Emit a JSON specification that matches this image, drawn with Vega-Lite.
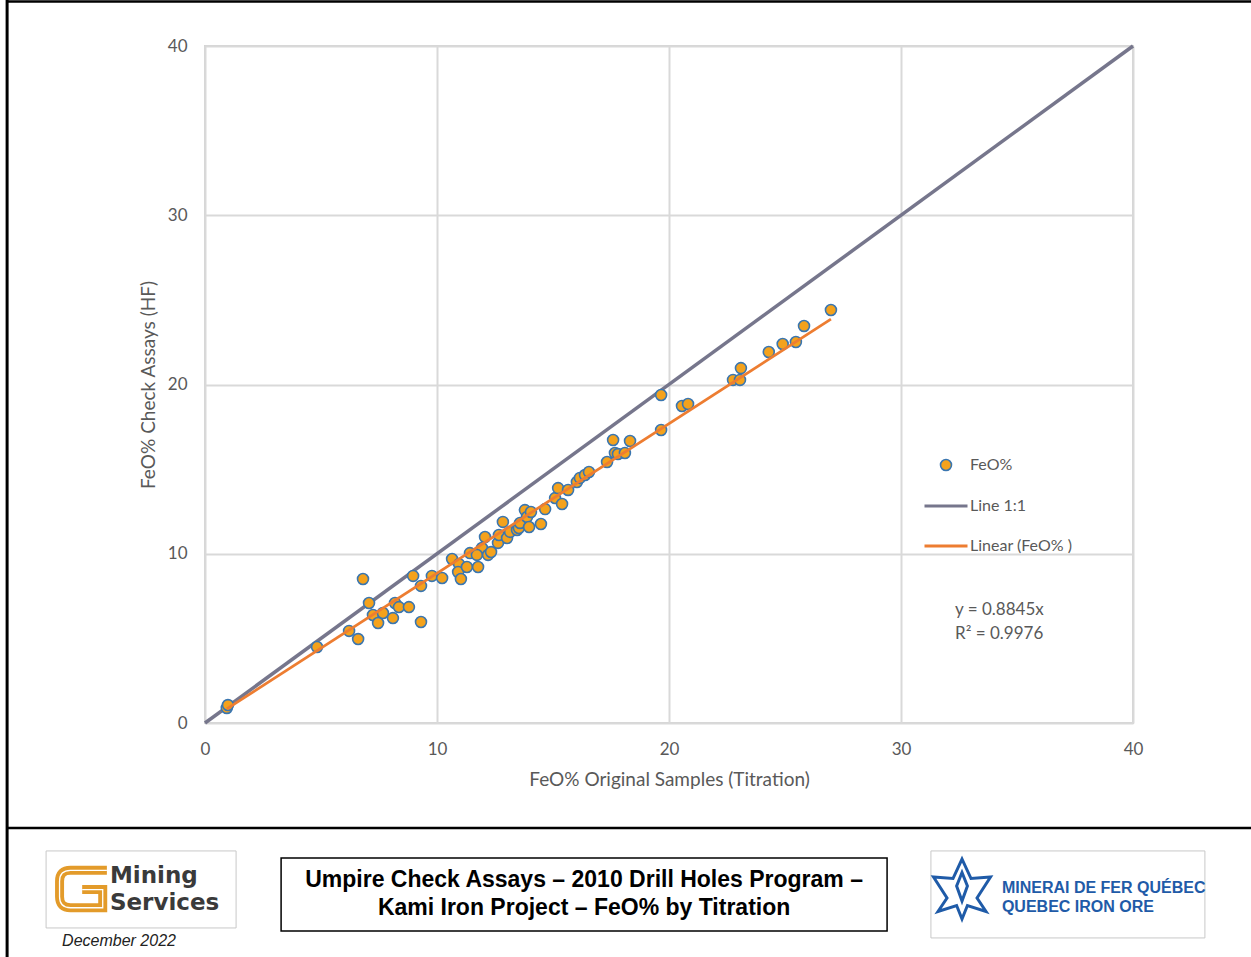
{
  "$schema": "https://vega.github.io/schema/vega-lite/v6.json",
  "width": 928,
  "height": 677,
  "autosize": {"type": "none"},
  "padding": {"left": 205, "top": 46, "right": 118, "bottom": 234},
  "background": "white",
  "config": {
    "view": {"stroke": "#D4D4D4", "strokeWidth": 2},
    "font": "Lato"
  },
  "layer": [
    {
      "data": {"values": [
        {"x": 0, "y": 0, "series": "Line 1:1"},
        {"x": 40, "y": 40, "series": "Line 1:1"}
      ]},
      "mark": {"type": "line", "strokeWidth": 3.5},
      "encoding": {
        "x": {"field": "x", "type": "quantitative", "scale": {"domain": [0, 40], "nice": false},
          "axis": {"values": [0, 10, 20, 30, 40], "grid": true, "gridColor": "#D9D9D9", "gridWidth": 2, "domain": false, "ticks": false, "labelFlush": false,
            "labelFontSize": 17, "labelColor": "#595959", "labelPadding": 18,
            "title": "FeO% Original Samples (Titration)", "titleFontSize": 19, "titleFontWeight": "normal", "titleColor": "#595959", "titlePadding": 13}},
        "y": {"field": "y", "type": "quantitative", "scale": {"domain": [0, 40], "nice": false},
          "axis": {"values": [0, 10, 20, 30, 40], "grid": true, "gridColor": "#D9D9D9", "gridWidth": 2, "domain": false, "ticks": false, "labelFlush": false,
            "labelFontSize": 17, "labelColor": "#595959", "labelPadding": 18,
            "title": "FeO% Check Assays (HF)", "titleFontSize": 19, "titleFontWeight": "normal", "titleColor": "#595959", "titlePadding": 9}},
        "color": {"field": "series", "type": "nominal",
          "scale": {"domain": ["FeO%", "Line 1:1", "Linear (FeO% )"], "range": ["#3A76B0", "#76768C", "#ED7D31"]},
          "legend": {"orient": "none", "legendX": 733, "legendY": 411, "title": null,
            "labelFontSize": 16, "labelColor": "#595959", "labelOffset": 16, "rowPadding": 24,
            "symbolSize": 1849, "symbolType": "stroke", "symbolStrokeWidth": 3,
            "encode": {"symbols": {"update": {
              "shape": {"signal": "datum.value === 'FeO%' ? 'circle' : 'stroke'"},
              "size": {"signal": "datum.value === 'FeO%' ? 120 : 1849"},
              "fill": {"signal": "datum.value === 'FeO%' ? '#F4A21C' : 'transparent'"},
              "stroke": {"signal": "datum.value === 'FeO%' ? '#3A76B0' : (datum.value === 'Line 1:1' ? '#76768C' : '#ED7D31')"},
              "strokeWidth": {"signal": "datum.value === 'FeO%' ? 1.6 : 3"},
              "opacity": {"value": 1}
            }}}}}
      }
    },
    {
      "data": {"values": [
        {"x": 0.94, "y": 0.89}, {"x": 0.99, "y": 1.06}, {"x": 4.83, "y": 4.49}, {"x": 6.21, "y": 5.44}, {"x": 6.6, "y": 4.96},
        {"x": 6.81, "y": 8.51}, {"x": 7.07, "y": 7.09}, {"x": 7.24, "y": 6.38}, {"x": 7.46, "y": 5.91}, {"x": 7.67, "y": 6.5},
        {"x": 8.1, "y": 6.2}, {"x": 8.19, "y": 7.09}, {"x": 8.36, "y": 6.85}, {"x": 8.79, "y": 6.85}, {"x": 8.97, "y": 8.69},
        {"x": 9.31, "y": 5.97}, {"x": 9.31, "y": 8.1}, {"x": 9.78, "y": 8.69}, {"x": 10.22, "y": 8.57}, {"x": 10.65, "y": 9.69},
        {"x": 10.95, "y": 9.39}, {"x": 10.91, "y": 8.92}, {"x": 11.03, "y": 8.51}, {"x": 11.29, "y": 9.22}, {"x": 11.42, "y": 10.04},
        {"x": 11.77, "y": 9.22}, {"x": 11.94, "y": 10.34}, {"x": 11.72, "y": 9.93}, {"x": 12.07, "y": 10.99}, {"x": 12.2, "y": 9.93},
        {"x": 12.33, "y": 10.1}, {"x": 12.63, "y": 10.64}, {"x": 12.67, "y": 11.11}, {"x": 12.84, "y": 11.88}, {"x": 13.02, "y": 10.93},
        {"x": 13.15, "y": 11.29}, {"x": 13.45, "y": 11.4}, {"x": 13.53, "y": 11.52}, {"x": 13.58, "y": 11.82}, {"x": 13.79, "y": 12.58},
        {"x": 13.88, "y": 12.17}, {"x": 14.05, "y": 12.47}, {"x": 13.97, "y": 11.58}, {"x": 14.48, "y": 11.76}, {"x": 14.66, "y": 12.64},
        {"x": 15.09, "y": 13.29}, {"x": 15.22, "y": 13.88}, {"x": 15.39, "y": 12.94}, {"x": 15.65, "y": 13.77}, {"x": 16.03, "y": 14.24},
        {"x": 16.16, "y": 14.48}, {"x": 16.38, "y": 14.65}, {"x": 16.55, "y": 14.83}, {"x": 17.33, "y": 15.42}, {"x": 17.59, "y": 16.72},
        {"x": 17.67, "y": 15.95}, {"x": 17.8, "y": 15.89}, {"x": 18.1, "y": 15.95}, {"x": 18.32, "y": 16.66}, {"x": 19.66, "y": 19.38},
        {"x": 19.66, "y": 17.31}, {"x": 20.56, "y": 18.73}, {"x": 20.82, "y": 18.85}, {"x": 22.76, "y": 20.27}, {"x": 23.06, "y": 20.27},
        {"x": 23.1, "y": 20.97}, {"x": 24.3, "y": 21.92}, {"x": 24.9, "y": 22.39}, {"x": 25.47, "y": 22.51}, {"x": 25.82, "y": 23.46},
        {"x": 26.98, "y": 24.4}
      ]},
      "transform": [{"calculate": "'FeO%'", "as": "series"}],
      "mark": {"type": "point", "filled": false, "fill": "#F4A21C", "fillOpacity": 1, "size": 120, "strokeWidth": 1.6, "opacity": 1},
      "encoding": {
        "x": {"field": "x", "type": "quantitative"},
        "y": {"field": "y", "type": "quantitative"},
        "color": {"field": "series", "type": "nominal"}
      }
    },
    {
      "data": {"values": [
        {"x": 0.94, "y": 0.83, "series": "Linear (FeO% )"},
        {"x": 26.98, "y": 23.86, "series": "Linear (FeO% )"}
      ]},
      "mark": {"type": "line", "strokeWidth": 2.75},
      "encoding": {
        "x": {"field": "x", "type": "quantitative"},
        "y": {"field": "y", "type": "quantitative"},
        "color": {"field": "series", "type": "nominal"}
      }
    },
    {
      "data": {"values": [{"eq": ["y = 0.8845x", "R² = 0.9976"]}]},
      "mark": {"type": "text", "align": "left", "baseline": "middle", "fontSize": 17, "lineHeight": 24, "color": "#595959"},
      "encoding": {
        "x": {"datum": 32.33},
        "y": {"datum": 6.68},
        "text": {"field": "eq"}
      }
    },
    {
      "data": {"values": [{"part": "frame-left"}]},
      "mark": {"type": "rule", "color": "#000000", "strokeWidth": 3},
      "encoding": {"x": {"datum": -8.53}, "y": {"datum": 42.72}, "y2": {"datum": -13.83}}
    },
    {
      "data": {"values": [{"part": "frame-top"}, {"part": "separator"}]},
      "transform": [{"calculate": "datum.part === 'frame-top' ? 42.63 : -6.2", "as": "ly"}],
      "mark": {"type": "rule", "color": "#000000", "strokeWidth": 2.5},
      "encoding": {"x": {"datum": -8.53}, "x2": {"datum": 45.09}, "y": {"field": "ly", "type": "quantitative"}}
    },
    {
      "data": {"values": [{"part": "left logo"}]},
      "mark": {"type": "rect", "fill": "white", "stroke": "#C8C8C8", "strokeWidth": 1},
      "encoding": {"x": {"datum": -6.85}, "x2": {"datum": 1.34}, "y": {"datum": -7.56}, "y2": {"datum": -12.11}}
    },
    {
      "data": {"values": [{"part": "title box"}]},
      "mark": {"type": "rect", "fill": "white", "stroke": "#000000", "strokeWidth": 1.5},
      "encoding": {"x": {"datum": 3.28}, "x2": {"datum": 29.4}, "y": {"datum": -7.98}, "y2": {"datum": -12.29}}
    },
    {
      "data": {"values": [{"part": "right logo"}]},
      "mark": {"type": "rect", "fill": "white", "stroke": "#C8C8C8", "strokeWidth": 1},
      "encoding": {"x": {"datum": 31.29}, "x2": {"datum": 43.1}, "y": {"datum": -7.56}, "y2": {"datum": -12.7}}
    },
    {
      "data": {"values": [{"part": "G icon"}]},
      "mark": {"type": "point", "filled": false, "size": 2704, "stroke": "#E39B2A", "strokeWidth": 9, "opacity": 1,
        "shape": "M1,-0.72 L-0.4,-0.72 Q-0.82,-0.72 -0.82,-0.3 L-0.82,0.3 Q-0.82,0.72 -0.4,0.72 L0.84,0.72 L0.84,0.02 L0.05,0.02"},
      "encoding": {"x": {"datum": -5.35}, "y": {"datum": -9.81}}
    },
    {
      "data": {"values": [{"part": "G icon line"}]},
      "mark": {"type": "point", "filled": false, "size": 2704, "stroke": "#FFFFFF", "strokeWidth": 1.3, "opacity": 1,
        "shape": "M1,-0.72 L-0.4,-0.72 Q-0.82,-0.72 -0.82,-0.3 L-0.82,0.3 Q-0.82,0.72 -0.4,0.72 L0.84,0.72 L0.84,0.02 L0.05,0.02"},
      "encoding": {"x": {"datum": -5.35}, "y": {"datum": -9.81}}
    },
    {
      "data": {"values": [{"t": ["Mining", "Services"]}]},
      "mark": {"type": "text", "align": "left", "baseline": "middle", "font": "DejaVu Sans", "fontWeight": "bold", "fontSize": 23, "lineHeight": 27, "color": "#3A3A3A"},
      "encoding": {"x": {"datum": -4.1}, "y": {"datum": -9.04}, "text": {"field": "t"}}
    },
    {
      "data": {"values": [{"t": "December 2022"}]},
      "mark": {"type": "text", "align": "left", "baseline": "middle", "font": "Liberation Sans", "fontStyle": "italic", "fontSize": 16, "color": "#222222"},
      "encoding": {"x": {"datum": -6.16}, "y": {"datum": -12.88}, "text": {"field": "t"}}
    },
    {
      "data": {"values": [{"t": ["Umpire Check Assays – 2010 Drill Holes Program –", "Kami Iron Project – FeO% by Titration"]}]},
      "mark": {"type": "text", "align": "center", "baseline": "middle", "font": "Liberation Sans", "fontWeight": "bold", "fontSize": 23, "lineHeight": 28, "color": "#000000"},
      "encoding": {"x": {"datum": 16.34}, "y": {"datum": -9.28}, "text": {"field": "t"}}
    },
    {
      "data": {"values": [{"part": "QIO icon"}]},
      "mark": {"type": "point", "filled": false, "size": 3600, "stroke": "#1F5BA8", "strokeWidth": 3, "opacity": 1,
        "shape": "M0,-1 L0.3,-0.35 L0.95,-0.4 L0.5,0.3 L0.8,0.75 L0.18,0.55 L0,1 L-0.18,0.55 L-0.8,0.75 L-0.5,0.3 L-0.95,-0.4 L-0.3,-0.35 Z M0,-0.55 L0.18,-0.1 L0,0.4 L-0.18,-0.1 Z"},
      "encoding": {"x": {"datum": 32.63}, "y": {"datum": -9.81}}
    },
    {
      "data": {"values": [{"t": ["MINERAI DE FER QUÉBEC", "QUEBEC IRON ORE"]}]},
      "mark": {"type": "text", "align": "left", "baseline": "middle", "font": "Liberation Sans", "fontWeight": "bold", "fontSize": 16, "lineHeight": 19, "color": "#1F5BA8"},
      "encoding": {"x": {"datum": 34.35}, "y": {"datum": -9.75}, "text": {"field": "t"}}
    }
  ]
}
